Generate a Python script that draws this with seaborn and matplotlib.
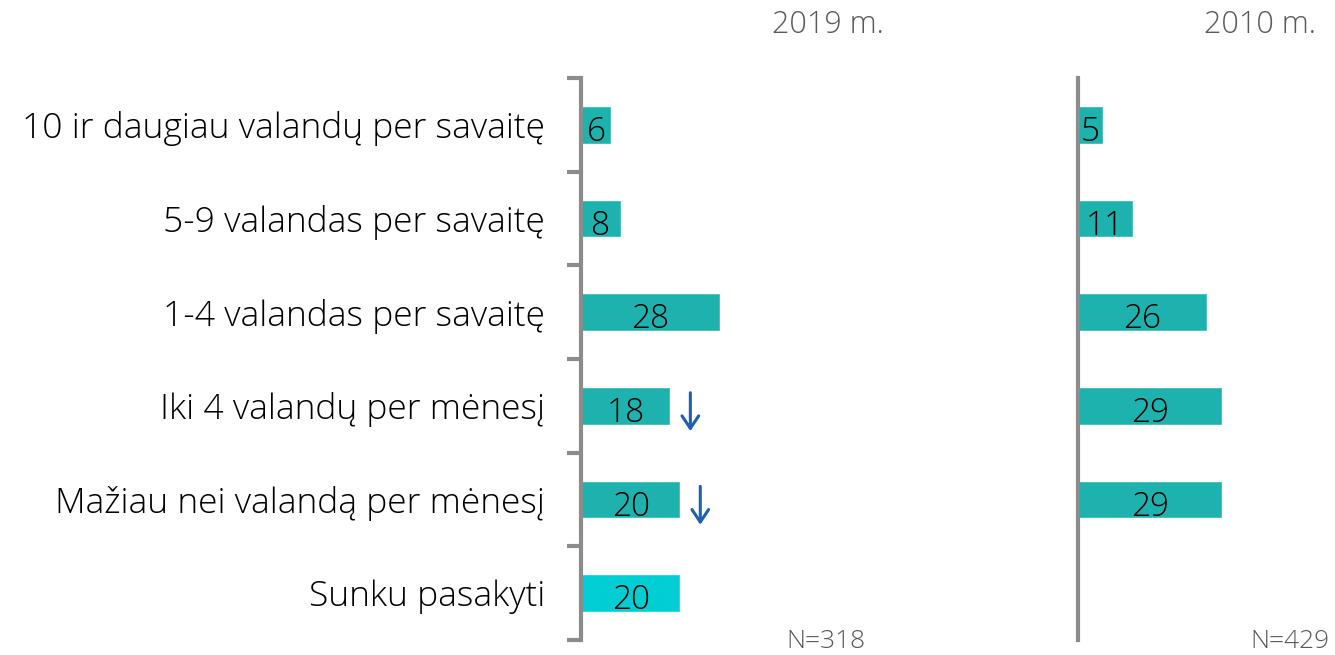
import matplotlib
matplotlib.use("Agg")
import matplotlib.pyplot as plt
import seaborn as sns
import pandas as pd
from matplotlib.ticker import FixedLocator

# Data
categories = [
    "10 ir daugiau valandų per savaitę",
    "5-9 valandas per savaitę",
    "1-4 valandas per savaitę",
    "Iki 4 valandų per mėnesį",
    "Mažiau nei valandą per mėnesį",
    "Sunku pasakyti",
]
values_2019 = [6, 8, 28, 18, 20, 20]
values_2010 = [5, 11, 26, 29, 29]
decrease_2019 = [False, False, False, True, True, False]  # blue down arrows
bar_colors = ["#1db2ae", "#1db2ae", "#1db2ae", "#1db2ae", "#1db2ae", "#00ced3"]

sns.set_style("white")
plt.rcParams["font.family"] = ["Open Sans", "DejaVu Sans"]

fig = plt.figure(figsize=(13.35, 6.55), dpi=100)
bottom, top = 1 - 640 / 655, 1 - 78 / 655
ax1 = fig.add_axes([581 / 1335, bottom, 497 / 1335, top - bottom])
ax2 = fig.add_axes([1078 / 1335, bottom, 257 / 1335, top - bottom])

df19 = pd.DataFrame({"cat": categories, "val": values_2019})
df10 = pd.DataFrame({"cat": categories[:len(values_2010)], "val": values_2010})
pal = dict(zip(categories, bar_colors))

sns.barplot(data=df19, x="val", y="cat", hue="cat", palette=pal, order=categories,
            width=0.4, legend=False, ax=ax1, saturation=1)
sns.barplot(data=df10, x="val", y="cat", hue="cat", palette=pal, order=categories,
            width=0.4, legend=False, ax=ax2, saturation=1)

axis_grey = "#8c8c8c"
for ax, vals, xmax in [(ax1, values_2019, 100), (ax2, values_2010, 257 / 4.97)]:
    ax.set_xlim(0, xmax)
    ax.set_ylim(5.5, -0.5)
    ax.set_xlabel("")
    ax.set_ylabel("")
    ax.set_xticks([])
    for s in ["top", "right", "bottom"]:
        ax.spines[s].set_visible(False)
    ax.spines["left"].set_color(axis_grey)
    ax.spines["left"].set_linewidth(3)
    for i, v in enumerate(vals):
        ax.text(v / 2, i + 0.08, str(v), ha="center", va="center",
                fontsize=24, fontweight="light", color="black")

# left panel: category labels and boundary ticks
ax1.tick_params(axis="y", which="major", left=False, length=0, pad=26, labelsize=25.5,
                labelcolor="black")
ax1.yaxis.set_minor_locator(FixedLocator([i - 0.5 for i in range(len(categories) + 1)]))
ax1.tick_params(axis="y", which="minor", left=True, direction="out", length=10,
                width=3, color=axis_grey)
for lab in ax1.get_yticklabels():
    lab.set_fontweight("light")

ax2.set_yticks([])
ax2.tick_params(axis="y", which="both", left=False)

for i, flag in enumerate(decrease_2019):
    if flag:
        x = values_2019[i] + 4
        ax1.annotate("", xy=(x, i + 0.27), xytext=(x, i - 0.14),
                     arrowprops=dict(arrowstyle="->,head_length=0.9,head_width=0.6",
                                     color="#1f5fb0", lw=2.2, shrinkA=0, shrinkB=0))

grey_text = "#595959"
fig.text(828 / 1335, 1 - 25 / 655, "2019 m.", ha="center", va="center",
         fontsize=22, color=grey_text, fontweight="light")
fig.text(1316 / 1335, 1 - 25 / 655, "2010 m.", ha="right", va="center",
         fontsize=22, color=grey_text, fontweight="light")
fig.text(826 / 1335, 1 - 641 / 655, "N=318", ha="center", va="center",
         fontsize=19, color=grey_text, fontweight="light")
fig.text(1290 / 1335, 1 - 641 / 655, "N=429", ha="center", va="center",
         fontsize=19, color=grey_text, fontweight="light")

fig.savefig("out.png", dpi=100)
